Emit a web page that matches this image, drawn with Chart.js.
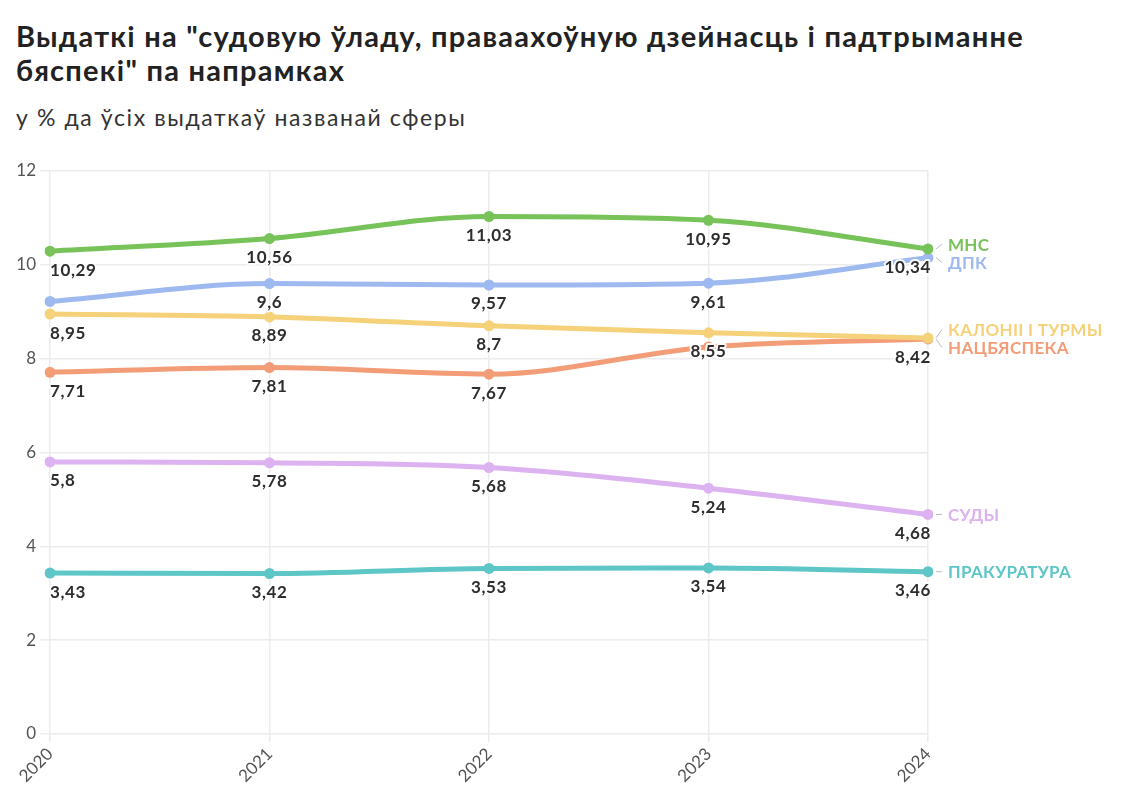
<!DOCTYPE html>
<html><head><meta charset="utf-8">
<script src="https://cdn.jsdelivr.net/npm/chart.js@4"></script>
<style>
html,body{margin:0;padding:0;background:#fff;width:1123px;height:811px;overflow:hidden;font-family:Lato,"Open Sans",sans-serif;}
#title{position:absolute;left:16px;top:19px;width:1100px;font-weight:700;font-size:29px;line-height:34px;color:#222;letter-spacing:1.25px;white-space:nowrap;}
#sub{position:absolute;left:16px;top:103px;font-size:23px;color:#333;letter-spacing:1.6px;}
#wrap{position:absolute;left:0;top:150px;width:1123px;height:661px;}
</style></head><body>
<div id="title">Выдаткі на "судовую ўладу, праваахоўную дзейнасць і падтрыманне<br>бяспекі" па напрамках</div>
<div id="sub">у % да ўсіх выдаткаў названай сферы</div>
<div id="wrap"><canvas id="c"></canvas></div>
<script>
const years = ["2020","2021","2022","2023","2024"];
const seriesNames = ["МНС","ДПК","КАЛОНІІ І ТУРМЫ","НАЦБЯСПЕКА","СУДЫ","ПРАКУРАТУРА"];
const mns = [10.29, 10.56, 11.03, 10.95, 10.34];
const dpk = [9.22, 9.6, 9.57, 9.61, 10.15];
const kalonii = [8.95, 8.89, 8.7, 8.55, 8.44];
const natsbyaspeka = [7.71, 7.81, 7.67, 8.25, 8.42];
const sudy = [5.8, 5.78, 5.68, 5.24, 4.68];
const prakuratura = [3.43, 3.42, 3.53, 3.54, 3.46];
// which value labels are shown (others hidden to avoid overlap)
const showMns = [true,true,true,true,true];
const showDpk = [false,true,true,true,false];
const showKalonii = [true,true,true,true,false];
const showNats = [true,true,true,false,true];
const showSudy = [true,true,true,true,true];
const showPrak = [true,true,true,true,true];
const yTicks = [0,2,4,6,8,10,12];

const colors = ["#78c25a","#9db9f0","#f5d17a","#f39d78","#ddb2f0","#5ec6c6"];
const allData = [mns,dpk,kalonii,natsbyaspeka,sudy,prakuratura];
const allShow = [showMns,showDpk,showKalonii,showNats,showSudy,showPrak];

const FONT = 'Lato, "Open Sans", sans-serif';
const fmt = v => String(v).replace('.', ',');

const labelPlugin = {
  id:'labels',
  afterDatasetsDraw(chart){
    const ctx = chart.ctx;
    const n = years.length;
    ctx.save();
    ctx.font = 'bold 17px ' + FONT;
    try { ctx.letterSpacing = '0.6px'; } catch(e) {}
    ctx.textBaseline = 'middle';
    ctx.lineJoin = 'round';
    chart.data.datasets.forEach((ds, di) => {
      const meta = chart.getDatasetMeta(di);
      meta.data.forEach((pt, i) => {
        if (!allShow[di][i]) return;
        const t = fmt(ds.data[i]);
        ctx.textAlign = i === 0 ? 'left' : (i === n-1 ? 'right' : 'center');
        const x = i === 0 ? pt.x : (i === n-1 ? pt.x + 3 : pt.x);
        const y = pt.y + 19;
        ctx.lineWidth = 4; ctx.strokeStyle = 'rgba(255,255,255,0.9)';
        ctx.strokeText(t, x, y);
        ctx.fillStyle = '#2e2e2e';
        ctx.fillText(t, x, y);
      });
    });
    // end-of-line series labels with collision avoidance
    const items = chart.data.datasets.map((ds, di) => {
      const pts = chart.getDatasetMeta(di).data;
      const last = pts[pts.length-1];
      return {di, x:last.x, py:last.y, y:last.y};
    }).sort((a,b)=>a.py-b.py);
    const gap = 18;
    for (let iter=0; iter<50; iter++){
      let moved=false;
      for (let k=0;k<items.length-1;k++){
        const a=items[k], b=items[k+1];
        const d=b.y-a.y;
        if (d<gap){ const s=(gap-d)/2; a.y-=s; b.y+=s; moved=true; }
      }
      if(!moved)break;
    }
    ctx.font = 'bold 17px ' + FONT;
    try { ctx.letterSpacing = '0.3px'; } catch(e) {}
    ctx.textAlign = 'left';
    items.forEach(it => {
      ctx.strokeStyle = '#bbb'; ctx.lineWidth = 1;
      ctx.beginPath();
      ctx.moveTo(it.x + 8, it.py);
      ctx.lineTo(it.x + 14, it.y);
      ctx.stroke();
      ctx.fillStyle = colors[it.di];
      ctx.fillText(seriesNames[it.di], it.x + 20, it.y + 1);
    });
    ctx.restore();
  }
};

new Chart(document.getElementById('c'), {
  type:'line',
  data:{
    labels: years,
    datasets: allData.map((d, i) => ({
      label: seriesNames[i],
      data: d,
      borderColor: colors[i],
      backgroundColor: colors[i],
      pointBackgroundColor: colors[i],
      pointBorderWidth: 0,
      pointRadius: 5.5,
      borderWidth: 5,
      cubicInterpolationMode: 'monotone',
      fill:false
    }))
  },
  options:{
    responsive:true,
    maintainAspectRatio:false,
    animation:false,
    layout:{padding:{top:21,right:195,left:0,bottom:0}},
    plugins:{legend:{display:false},tooltip:{enabled:false}},
    scales:{
      x:{
        offset:false,
        grid:{color:'#ececec',lineWidth:1.5,tickLength:8,drawTicks:true},
        border:{display:false},
        ticks:{color:'#555',font:{family:FONT,size:17},maxRotation:45,minRotation:45,padding:2},
        afterFit(s){ s.height = 77; }
      },
      y:{
        min:0,max:12,
        afterBuildTicks(s){ s.ticks = yTicks.map(v=>({value:v})); },
        grid:{color:'#ececec',lineWidth:1.5,tickLength:10},
        border:{display:false},
        ticks:{color:'#555',font:{family:FONT,size:17},padding:4},
        afterFit(s){ s.width = 50; }
      }
    }
  },
  plugins:[labelPlugin]
});
</script>
</body></html>
